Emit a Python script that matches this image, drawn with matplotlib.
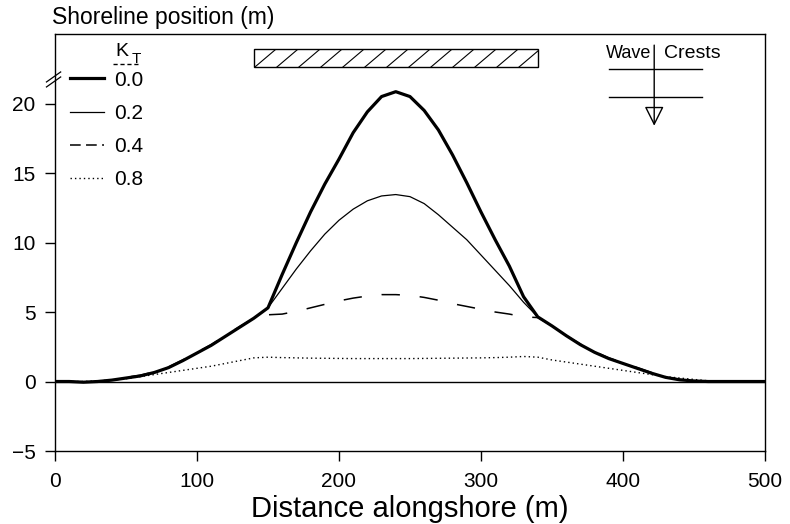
import matplotlib

matplotlib.use("Agg")
import matplotlib.pyplot as plt
import numpy as np
from matplotlib.lines import Line2D
from matplotlib.patches import Rectangle

plt.rcParams["font.family"] = ["Liberation Sans", "DejaVu Sans"]

# distance alongshore (m)
x = [0, 10, 20, 30, 40, 50, 60, 70, 80, 90, 100, 110, 120, 130, 140, 150,
     160, 170, 180, 190, 200, 210, 220, 230, 240, 250, 260, 270, 280, 290, 300,
     310, 320, 330, 340, 350, 360, 370, 380, 390, 400, 410, 420, 430, 440, 450,
     460, 470, 480, 490, 500]

# shoreline position (m) for each transmission coefficient K_T
y_kt00 = [0, 0, -0.05, 0, 0.1, 0.25, 0.4, 0.65, 1.0, 1.5, 2.05, 2.6, 3.25, 3.9, 4.55, 5.3,
          7.7, 10.0, 12.2, 14.2, 16.0, 17.9, 19.4, 20.5, 20.85, 20.5, 19.5, 18.1, 16.3, 14.3, 12.2,
          10.2, 8.3, 6.1, 4.65, 4.0, 3.3, 2.65, 2.1, 1.65, 1.3, 0.95, 0.6, 0.3, 0.12, 0.04,
          0, 0, 0, 0, 0]
y_kt02 = [0, 0, -0.05, 0, 0.1, 0.25, 0.4, 0.65, 1.0, 1.5, 2.05, 2.6, 3.25, 3.9, 4.55, 5.3,
          6.7, 8.1, 9.4, 10.6, 11.6, 12.4, 13.0, 13.35, 13.45, 13.3, 12.8, 12.0, 11.1, 10.2, 9.1,
          8.0, 6.9, 5.7, 4.65, 4.0, 3.3, 2.65, 2.1, 1.65, 1.3, 0.95, 0.6, 0.3, 0.12, 0.04,
          0, 0, 0, 0, 0]
y_kt04 = [0, 0, -0.05, 0, 0.12, 0.3, 0.45, 0.7, 1.05, 1.55, 2.1, 2.65, 3.3, 3.95, 4.55, 4.8,
          4.85, 5.05, 5.3, 5.55, 5.8, 6.0, 6.15, 6.25, 6.25, 6.2, 6.05, 5.85, 5.6, 5.4, 5.2,
          5.0, 4.85, 4.65, 4.6, 4.0, 3.3, 2.7, 2.15, 1.7, 1.35, 1.0, 0.65, 0.35, 0.15, 0.05,
          0, 0, 0, 0, 0]
y_kt08 = [0, 0, 0, 0.05, 0.1, 0.2, 0.35, 0.5, 0.65, 0.8, 0.95, 1.1, 1.3, 1.5, 1.7, 1.75,
          1.72, 1.7, 1.68, 1.67, 1.66, 1.65, 1.65, 1.65, 1.65, 1.65, 1.66, 1.67, 1.68, 1.69, 1.7,
          1.72, 1.75, 1.8, 1.75, 1.55, 1.4, 1.25, 1.1, 0.95, 0.8, 0.65, 0.5, 0.35, 0.25, 0.15,
          0.05, 0, 0, 0, 0]

kt_labels = ["0.0", "0.2", "0.4", "0.8"]
x_ticks = [0, 100, 200, 300, 400, 500]
y_ticks = [-5, 0, 5, 10, 15, 20]

# offshore breakwater extent and wave crest symbol (data units)
breakwater_x = (140, 340)
breakwater_y = (22.6, 23.9)
hatch_step = 15.5
hatch_run = 15.0
crest_x = (390, 456)
crest_ys = [22.5, 20.5]
crest_axis_x = 422
crest_axis_y = (24.4, 18.2)

fig = plt.figure(figsize=(7.9, 5.24), dpi=100)
ax = fig.add_axes([0.0696, 0.1393, 0.8987, 0.7958])

styles = [
    dict(color="black", lw=2.3, ls="-"),
    dict(color="black", lw=0.9, ls="-"),
    dict(color="black", lw=1.1, ls=(0, (12, 13))),
    dict(color="black", lw=1.0, ls=(0, (1, 2.2))),
]
legend_styles = [
    dict(color="black", lw=2.3, ls="-"),
    dict(color="black", lw=0.9, ls="-"),
    dict(color="black", lw=1.1, ls=(0, (7, 3.5))),
    dict(color="black", lw=1.0, ls=(0, (1, 2.2))),
]
series = [y_kt00, y_kt02, y_kt04, y_kt08]
handles = []
for y, st, lst, lab in zip(series, styles, legend_styles, kt_labels):
    ax.plot(x, y, **st)
    handles.append(Line2D([], [], label=lab, **lst))

ax.axhline(0, color="black", lw=1.0)

# breakwater, hatched by hand so the line spacing matches
bw = Rectangle((breakwater_x[0], breakwater_y[0]),
               breakwater_x[1] - breakwater_x[0], breakwater_y[1] - breakwater_y[0],
               facecolor="white", edgecolor="black", lw=1.0, zorder=3)
ax.add_patch(bw)
for x0 in np.arange(breakwater_x[0] - hatch_run, breakwater_x[1], hatch_step):
    (hl,) = ax.plot([x0, x0 + hatch_run], breakwater_y, color="black", lw=0.8, zorder=4)
    hl.set_clip_path(bw)

# wave crests symbol
for cy in crest_ys:
    ax.plot(crest_x, [cy, cy], color="black", lw=1.0)
ax.annotate("", xy=(crest_axis_x, crest_axis_y[1]), xytext=(crest_axis_x, crest_axis_y[0]),
            arrowprops=dict(arrowstyle="-|>", color="black", lw=1.0, fill=False,
                            mutation_scale=30))
ax.text(crest_axis_x - 2, 23.6, "Wave", ha="right", va="center", fontsize=13)
ax.text(crest_axis_x + 7, 23.6, "Crests", ha="left", va="center", fontsize=14)

ax.set_xlim(0, 500)
ax.set_ylim(-5, 25)
ax.set_xticks(x_ticks)
ax.set_yticks(y_ticks)
ax.tick_params(direction="out", length=7, width=1.0, labelsize=15)
ax.tick_params(axis="x", pad=8)
ax.tick_params(axis="y", pad=7)
for sp in ax.spines.values():
    sp.set_linewidth(1.0)

ax.set_xlabel("Distance alongshore (m)", fontsize=21, labelpad=3)
fig.text(0.066, 0.966, "Shoreline position (m)", fontsize=16.5, ha="left", va="center")

# axis break mark on the y axis
for dy in (0.0, 0.012):
    ax.add_line(Line2D([-0.012, 0.008], [0.885 + dy - 0.012, 0.885 + dy + 0.012],
                       transform=ax.transAxes, color="black", lw=0.9, clip_on=False))

# legend with K_T heading
ax.legend(handles=handles, loc="upper left", bbox_to_anchor=(0.004, 0.942),
          frameon=False, fontsize=15, handlelength=1.6, handletextpad=0.5,
          labelspacing=0.68, borderaxespad=0.2)
ax.text(0.0845, 0.958, "K", transform=ax.transAxes, fontsize=14, ha="left", va="center")
ax.text(0.108, 0.940, "T", transform=ax.transAxes, fontsize=11, ha="left", va="center")
ax.add_line(Line2D([0.082, 0.12], [0.929, 0.929], transform=ax.transAxes, color="black",
                   lw=1.0, ls=(0, (3, 2))))

fig.savefig("out.png", dpi=100)
